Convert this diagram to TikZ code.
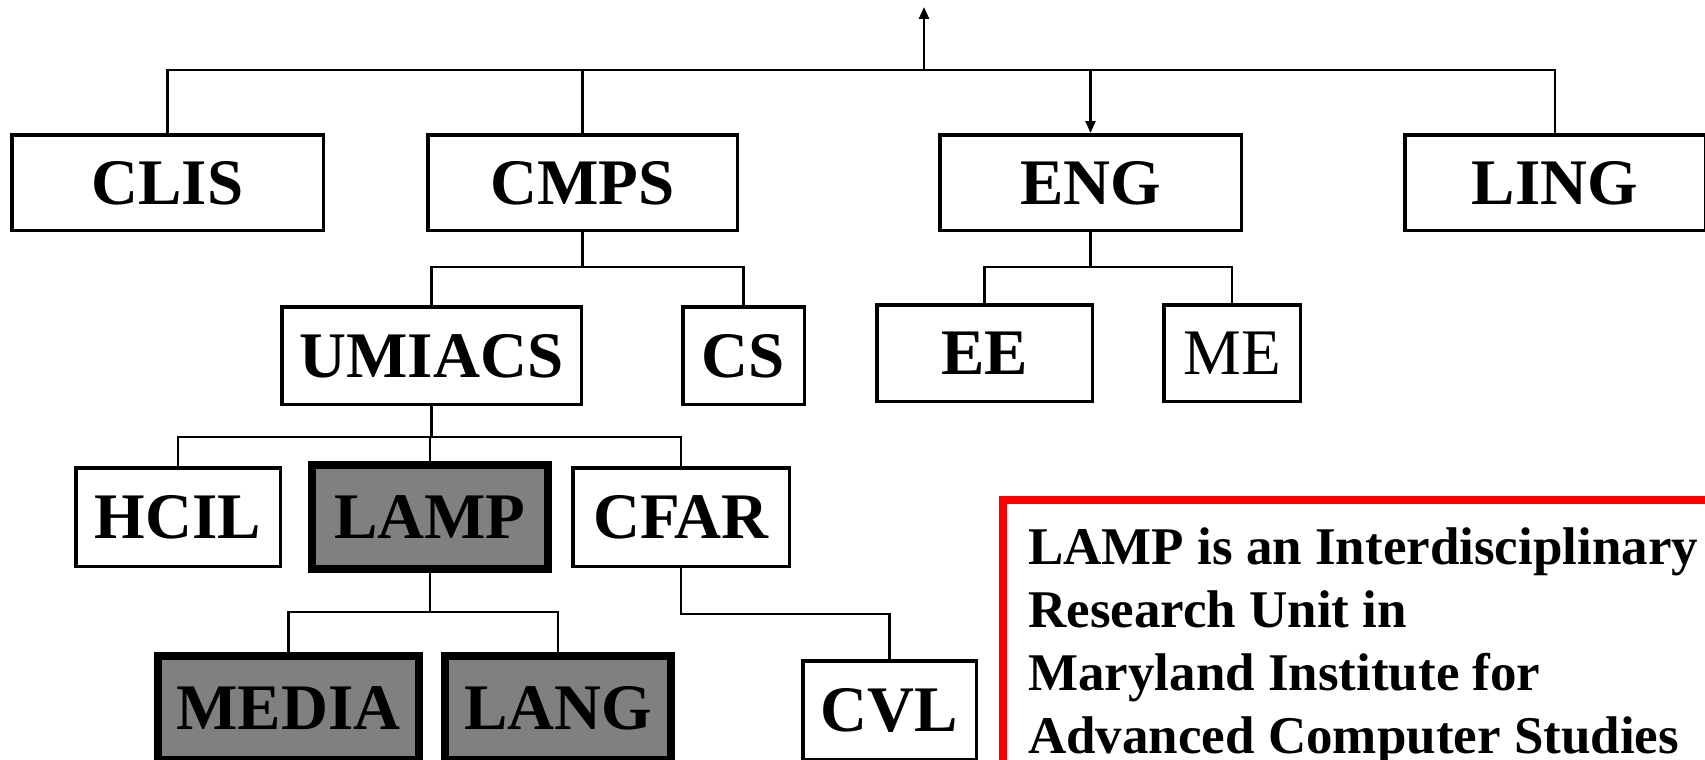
\documentclass[tikz,border=0pt]{standalone}
\usepackage{fontspec}
\setmainfont{Liberation Serif}
\usetikzlibrary{arrows.meta}
\tikzset{
  box/.style={draw, line width=3.5pt, inner sep=0pt, text depth=0pt,
    font=\bfseries\fontsize{65}{65}\selectfont},
  plainbox/.style={box, font=\fontsize{65}{65}\selectfont},
  hot/.style={box, line width=8pt, fill=gray},
  conn/.style={line width=2.5pt},
  tip/.style={-{Triangle[length=12pt,width=10pt]}}
}
\begin{document}
\begin{tikzpicture}[x=1pt,y=-1pt]
\useasboundingbox (0,0) rectangle (1705,760);
% row 1
\node[box, minimum width=311.5pt, minimum height=95.5pt] (clis) at (167.5,182.5) {CLIS};
\node[box, minimum width=309.5pt, minimum height=95.5pt] (cmps) at (582.5,182.5) {CMPS};
\node[box, minimum width=301.5pt, minimum height=95.5pt] (eng) at (1090.5,182.5) {ENG};
\node[box, minimum width=300.5pt, minimum height=95.5pt] (ling) at (1555,182.5) {LING};
% row 2
\node[box, minimum width=299.5pt, minimum height=97.5pt] (umiacs) at (431.5,355.5) {UMIACS};
\node[box, minimum width=121.5pt, minimum height=97.5pt] (cs) at (743.5,355.5) {CS};
\node[box, minimum width=215.5pt, minimum height=96.5pt] (ee) at (984.5,353) {EE};
\node[plainbox, minimum width=136.5pt, minimum height=96.5pt] (me) at (1232,353) {ME};
% row 3
\node[box, minimum width=204.5pt, minimum height=98.5pt] (hcil) at (178,517) {HCIL};
\node[hot, minimum width=236pt, minimum height=104pt] (lamp) at (430,517) {LAMP};
\node[box, minimum width=216.5pt, minimum height=98.5pt] (cfar) at (681,517) {CFAR};
% row 4
\node[hot, minimum width=261pt, minimum height=104pt] (media) at (288.5,708) {MEDIA};
\node[hot, minimum width=226pt, minimum height=104pt] (lang) at (558,708) {LANG};
\node[box, minimum width=173.5pt, minimum height=98.5pt] (cvl) at (889.5,710) {CVL};
% levels
\coordinate (bus0) at (924,70);
\coordinate (root) at (924,7);
\coordinate (bus1) at (0,267);
\coordinate (bus2) at (0,437);
\coordinate (bus3) at (0,612);
\coordinate (bus4) at (0,614);
% top bus
\draw[conn] (clis.north) -- (clis.north |- bus0) -- (ling.north |- bus0) -- (ling.north);
\draw[conn] (cmps.north) -- (cmps.north |- bus0);
\draw[conn, tip] (bus0) -- (root);
\draw[conn, tip] (eng.north |- bus0) -- (eng.north);
% CMPS children
\draw[conn] (cmps.south) -- (cmps.south |- bus1);
\draw[conn] (umiacs.north) -- (umiacs.north |- bus1) -- (cs.north |- bus1) -- (cs.north);
% ENG children
\draw[conn] (eng.south) -- (eng.south |- bus1);
\draw[conn] (ee.north) -- (ee.north |- bus1) -- (me.north |- bus1) -- (me.north);
% UMIACS children
\draw[conn] (umiacs.south) -- (umiacs.south |- bus2);
\draw[conn] (hcil.north) -- (hcil.north |- bus2) -- (cfar.north |- bus2) -- (cfar.north);
\draw[conn] (lamp.north) -- (lamp.north |- bus2);
% LAMP children
\draw[conn] (lamp.south) -- (lamp.south |- bus3);
\draw[conn] (media.north) -- (media.north |- bus3) -- (lang.north |- bus3) -- (lang.north);
% CFAR child
\draw[conn] (cfar.south) -- (cfar.south |- bus4) -- (cvl.north |- bus4) -- (cvl.north);
% note box
\draw[red, line width=8pt] (1003,500) rectangle (1712,775);
\node[anchor=base west, align=left, inner sep=0pt,
  font=\bfseries\fontsize{53}{63}\selectfont] (note) at (1028,753)
  {LAMP is an Interdisciplinary\\Research Unit in\\Maryland Institute for\\Advanced Computer Studies};
\end{tikzpicture}
\end{document}
